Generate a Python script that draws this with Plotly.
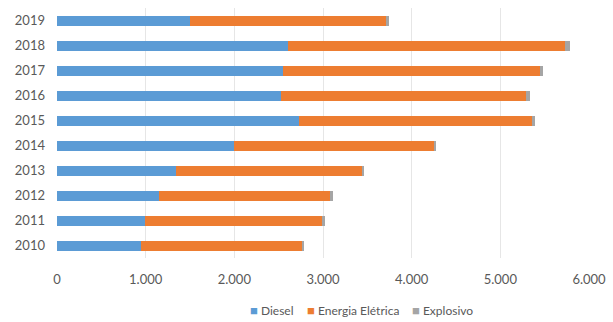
import plotly.graph_objects as go

years = ["2010", "2011", "2012", "2013", "2014", "2015", "2016", "2017", "2018", "2019"]
diesel = [950, 995, 1145, 1340, 2000, 2730, 2530, 2550, 2600, 1500]
energia = [1813, 1994, 1945, 2107, 2250, 2624, 2764, 2895, 3134, 2213]
explosivo = [27, 30, 22, 20, 27, 40, 38, 40, 48, 30]

series = [("Diesel", diesel, "#5B9BD5"),
          ("Energia Elétrica", energia, "#ED7D31"),
          ("Explosivo", explosivo, "#A5A5A5")]

font_fam = "Lato, Open Sans, sans-serif"
txt = "#595959"

fig = go.Figure()
for name, vals, col in series:
    fig.add_trace(go.Bar(y=years, x=vals, name=name, orientation="h",
                         marker=dict(color=col, line=dict(width=0)),
                         showlegend=False))

# legend drawn as text entries below the plot
legend_x = [248, 305, 410]
for (name, vals, col), px in zip(series, legend_x):
    fig.add_annotation(
        xref="paper", yref="paper",
        x=(px - 57) / 532, y=(258 - 310) / 250,
        xanchor="left", yanchor="middle", showarrow=False,
        text=f"<span style='color:{col}; font-size:13px'>■</span> {name}",
        font=dict(family=font_fam, size=12, color=txt),
    )

fig.update_layout(
    barmode="stack",
    bargap=0.6,
    width=613, height=322,
    margin=dict(l=57, r=24, t=8, b=64, autoexpand=False),
    plot_bgcolor="white", paper_bgcolor="white",
    separators=",.",
    font=dict(family=font_fam, size=13, color=txt),
    xaxis=dict(range=[0, 6000], dtick=1000, tickformat=",d",
               showgrid=True, gridcolor="#E6E6E6", gridwidth=1,
               zeroline=False, showline=False, ticks="",
               ticklabelstandoff=12,
               tickfont=dict(size=13, color=txt)),
    yaxis=dict(type="category", showgrid=False, zeroline=False,
               showline=False, ticks="", ticklabelstandoff=11,
               tickfont=dict(size=13, color=txt)),
    showlegend=False,
)

fig.write_html("out.html")
